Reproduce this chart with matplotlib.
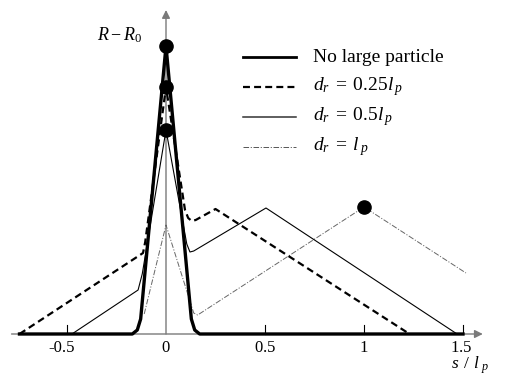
import matplotlib
matplotlib.use("Agg")
import matplotlib.pyplot as plt

plt.rcParams['mathtext.fontset'] = 'custom'
plt.rcParams['mathtext.rm'] = 'Liberation Serif'
plt.rcParams['mathtext.it'] = 'Liberation Serif:italic'
plt.rcParams['font.family'] = ['Liberation Serif', 'DejaVu Serif']
plt.rcParams['lines.scale_dashes'] = False

# ---- data (s / l_p , R - R0 in arbitrary units) ----
s_none = [-0.74, -0.17, -0.145, -0.128, 0.0, 0.128, 0.145, 0.17, 1.5]
r_none = [0.0, 0.0, 0.04, 0.15, 2.88, 0.15, 0.04, 0.0, 0.0]

s_q = [-0.74, -0.116, -0.105, 0.0, 0.096, 0.112, 0.13, 0.15, 0.25, 1.23]
r_q = [0.0, 0.81, 0.92, 2.47, 1.24, 1.16, 1.13, 1.14, 1.25, 0.0]

s_h = [-0.475, -0.141, -0.12, 0.0, 0.105, 0.121, 0.14, 0.505, 1.47]
r_h = [0.0, 0.44, 0.6, 2.04, 0.9, 0.82, 0.83, 1.26, 0.0]

s_one = [-0.11, 0.0, 0.14, 0.16, 1.0, 1.515]
r_one = [0.2, 1.09, 0.21, 0.19, 1.27, 0.61]

dot_s = [0.0, 0.0, 0.0, 1.0]
dot_r = [2.88, 2.47, 2.04, 1.27]

xtick_vals = [-0.5, 0, 0.5, 1, 1.5]
xtick_labels = ['-0.5', r'$0$', r'$0.5$', r'$1$', r'$1.5$']

legend_labels = ['No large particle', r'$d_r\;=\;0.25l_{\,p}$',
                 r'$d_r\;=\;0.5l_{\,p}$', r'$d_r\;=\;l_{\,p}$']

W, H = 506, 379
fig = plt.figure(figsize=(W / 100, H / 100), dpi=100)
ax = fig.add_axes([0, 0, 1, 1])
x0px, sx = 166, 198
base_px = 334
ax.set_xlim(-x0px / sx, (W - x0px) / sx)
ax.set_ylim(-(H - base_px) / 100, base_px / 100)
ax.axis('off')

axis_col = '#7a7a7a'
# axes with arrows
ax.annotate('', xy=(1.60, 0), xytext=(-0.78, 0),
            arrowprops=dict(arrowstyle='-|>', color=axis_col, lw=1.0,
                            mutation_scale=12, shrinkA=0, shrinkB=0))
ax.annotate('', xy=(0, 3.24), xytext=(0, 0),
            arrowprops=dict(arrowstyle='-|>', color=axis_col, lw=1.0,
                            mutation_scale=12, shrinkA=0, shrinkB=0))
for v, lab in zip(xtick_vals, xtick_labels):
    if v != 0:
        ax.plot([v, v], [0, 0.09], color='black', lw=0.8, zorder=2)
    off = -0.025 if v < 0 else (-0.012 if v == 1.5 else 0.0)
    ax.text(v + off, -(352 - base_px) / 100, lab, ha='center', va='baseline', fontsize=12)

# curves
ax.plot(s_one, r_one, color='#666666', lw=0.7, dashes=(4, 1.2, 0.8, 1.2), zorder=3)
ax.plot(s_h, r_h, color='black', lw=0.8, zorder=4)
ax.plot(s_q, r_q, color='black', lw=1.6, dashes=(5, 3), zorder=5)
ax.plot(s_none, r_none, color='black', lw=2.4, zorder=6, solid_joinstyle='round')
ax.plot(dot_s, dot_r, 'o', color='black', ms=9.5, zorder=7)

# axis labels
ax.text(97 / sx - x0px / sx, (base_px - 35) / 100, r'$R-R_0$',
        ha='left', va='center', fontsize=13)
ax.text((451 - x0px) / sx, (base_px - 369) / 100, r'$s\;\,/\;\,l_{\;p}$',
        ha='left', va='baseline', fontsize=12.5)

# legend (manual)
styles = [dict(color='black', lw=2.0),
          dict(color='black', lw=1.6, dashes=(5, 3)),
          dict(color='#333333', lw=1.1),
          dict(color='#555555', lw=0.7, dashes=(4, 1.2, 0.8, 1.2))]
rows = [57, 87, 117, 147]
for st, lab, ry in zip(styles, legend_labels, rows):
    yf = 1 - ry / H
    fig.add_artist(plt.Line2D([243 / W, 296 / W], [yf, yf], transform=fig.transFigure, **st))
    fig.text(313 / W, yf, lab, ha='left', va='center', fontsize=14)

fig.savefig('out.png', dpi=100)
